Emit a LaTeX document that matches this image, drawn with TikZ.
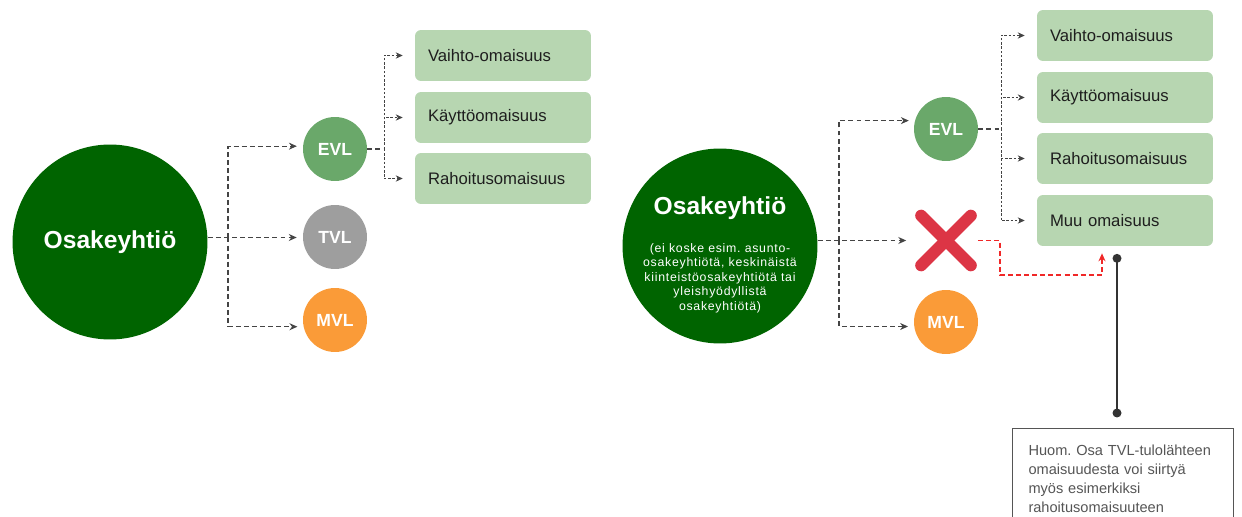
\documentclass[tikz,border=0pt]{standalone}
\usepackage{fontspec}
\setmainfont{Liberation Sans}
\usetikzlibrary{arrows.meta}
\definecolor{dkgreen}{HTML}{006400}
\definecolor{evlgreen}{HTML}{6AA86A}
\definecolor{tvlgray}{HTML}{9E9E9E}
\definecolor{mvlorange}{HTML}{FA9B38}
\definecolor{boxgreen}{HTML}{B7D6B1}
\definecolor{arrgray}{HTML}{444444}
\definecolor{xred}{HTML}{DC3545}
\definecolor{lred}{HTML}{F02828}
\definecolor{textdark}{HTML}{1E1E1E}
\definecolor{notegray}{HTML}{555555}
\frenchspacing
\begin{document}
\begin{tikzpicture}[x=0.02cm,y=-0.02cm,
  big/.style={circle, fill=dkgreen, minimum size=3.9cm, inner sep=0pt},
  bigtitle/.style={text=white, font=\fontsize{14}{16}\selectfont\bfseries, inner sep=0pt},
  subtxt/.style={text=white, align=center, inner sep=0pt, font=\fontsize{7}{8.3}\selectfont\addfontfeatures{LetterSpace=6}},
  vl/.style={circle, minimum size=1.28cm, inner sep=0pt, text=white, font=\fontsize{10}{12}\selectfont\bfseries},
  asset/.style={rectangle, rounded corners=0.12cm, fill=boxgreen, minimum height=1.02cm, text width=3cm, inner xsep=0.26cm, align=left, text=textdark, font=\fontsize{9.5}{11}\selectfont},
  link/.style={draw=arrgray, line width=0.6pt, dash pattern=on 2.8pt off 1.8pt, -{Stealth[length=4.5pt,width=4pt]}, shorten >=3.4pt},
  stub/.style={draw=arrgray, line width=0.6pt, dash pattern=on 2.8pt off 1.8pt},
  fine/.style={draw=arrgray, line width=0.5pt, dash pattern=on 1.4pt off 1pt, -{Stealth[length=4pt,width=3.6pt]}, shorten >=6.8pt},
  redlink/.style={draw=lred, line width=0.6pt, dash pattern=on 2.8pt off 1.8pt, -{Stealth[length=4.5pt,width=4pt]}, shorten >=4pt},
  cross/.style={draw=xred, line width=6.8pt, line cap=round},
  notebox/.style={draw=notegray, line width=0.6pt, anchor=north west, minimum width=4.42cm, text width=3.78cm, inner xsep=0.32cm, inner ysep=0.32cm, align=left, text=notegray, font=\fontsize{8.3}{10.8}\selectfont},
  noteline/.style={draw=black!80, line width=1.1pt}]
\useasboundingbox (0,0) rectangle (1242,517);

% ---------- left diagram ----------
\node[big] (osaL) at (110,242) {};
\node[bigtitle] (osaLt) at (110,242) {Osakeyhtiö};
\node[vl, fill=evlgreen] (evlL) at (335,149) {EVL};
\node[vl, fill=tvlgray] (tvlL) at (335,237) {TVL};
\node[vl, fill=mvlorange] (mvlL) at (335,320) {MVL};
\node[asset] (v1L) at (503,55.5) {Vaihto-omaisuus};
\node[asset] (k1L) at (503,117.5) {Käyttöomaisuus};
\node[asset] (r1L) at (503,178.5) {Rahoitusomaisuus};

\coordinate (jL) at (228,237.5);
\draw[link] (osaL.east |- jL) -- (tvlL.west |- jL);
\draw[link] (jL) |- (evlL.175);
\draw[link] (jL) |- (mvlL.192);
\coordinate (bjL) at (384,149);
\draw[stub] (evlL.east) -- (bjL);
\draw[fine] (bjL) |- (v1L.west);
\draw[fine] (bjL) |- (k1L.west);
\draw[fine] (bjL) |- (r1L.west);

% ---------- right diagram ----------
\node[big] (osaR) at (720,246) {};
\node[bigtitle] (osaRt) at (720,208) {Osakeyhtiö};
\node[subtxt] (osaRs) at (720,278) {(ei koske esim. asunto-\\osakeyhtiötä, keskinäistä\\kiinteistöosakeyhtiötä tai\\yleishyödyllistä\\osakeyhtiötä)};
\node[vl, fill=evlgreen] (evlR) at (946,129) {EVL};
\node[minimum size=1.22cm, inner sep=0pt] (xm) at (946,240.5) {};
\draw[cross] ([shift={(6,6)}]xm.north west) -- ([shift={(-6,-6)}]xm.south east);
\draw[cross] ([shift={(-6,6)}]xm.north east) -- ([shift={(6,-6)}]xm.south west);
\node[vl, fill=mvlorange] (mvlR) at (946,322) {MVL};
\node[asset] (v2) at (1125,35.5) {Vaihto-omaisuus};
\node[asset] (k2) at (1125,97.5) {Käyttöomaisuus};
\node[asset] (r2) at (1125,158.5) {Rahoitusomaisuus};
\node[asset] (m2) at (1125,220.5) {Muu omaisuus};

\coordinate (jR) at (839,240.5);
\draw[link] (osaR.east |- jR) -- ([shift={(-3,0)}]xm.west);
\draw[link] (jR) |- (evlR.165);
\draw[link] (jR) |- (mvlR.188);
\coordinate (bjR) at (1001,129);
\draw[stub] (evlR.east) -- (bjR);
\draw[fine] (bjR) |- (v2.west);
\draw[fine] (bjR) |- (k2.west);
\draw[fine] (bjR) |- (r2.west);
\draw[fine] (bjR) |- (m2.west);

\coordinate (rc1) at (1000,275);
\coordinate (rc2) at (1102,275);
\draw[redlink] ([shift={(1,0)}]xm.east) -| (rc1) -- (rc2) -- (rc2 |- m2.south);

% ---------- note ----------
\node[notebox] (note) at (1012,428) {Huom. Osa TVL-tulolähteen\\omaisuudesta voi siirtyä\\myös esimerkiksi\\rahoitusomaisuuteen};
\path (m2.south) ++(-8,12) coordinate (d1);
\path (note.north west) ++(105,-15) coordinate (d2);
\draw[noteline] (d1) -- (d2);
\fill[black!80] (d1) circle[radius=0.09cm];
\fill[black!80] (d2) circle[radius=0.09cm];
\end{tikzpicture}
\end{document}
